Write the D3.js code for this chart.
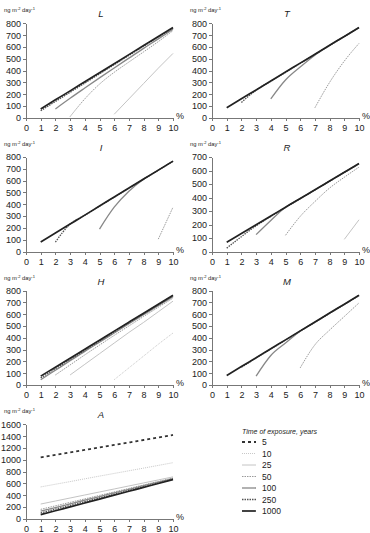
<!DOCTYPE html>
<meta charset="utf-8">
<style>
body { margin: 0; background: #fff; font-family: Arial, "Liberation Sans", sans-serif; }
.axis path, .axis line { fill: none; stroke: #777; stroke-width: 1; shape-rendering: crispEdges; }
.axis text { font-size: 9px; fill: #222; font-family: Arial, "Liberation Sans", sans-serif; }
.title { font-size: 9.5px; font-style: italic; text-anchor: middle; fill: #222; }
.unit { font-size: 5.8px; fill: #222; }
.legend text { font-size: 8.5px; fill: #222; }
</style>
<body>
<div id="d3id"></div>
<script src="https://d3js.org/d3.v7.min.js"></script>
<script>

// x positions (%) shared by every series
var xPct = [1, 2, 3, 4, 5, 6, 7, 8, 9, 10];
var xTicks = [0, 1, 2, 3, 4, 5, 6, 7, 8, 9, 10];
var seriesNames = ["5", "10", "25", "50", "100", "250", "1000"];

// values per panel, null = no value
var panelL = {
  "1000": [75, 152, 228, 305, 382, 458, 535, 612, 688, 765],
  "250":  [60, 138, 216, 294, 372, 450, 528, 606, 684, 758],
  "100":  [null, 75, 165, 252, 338, 422, 505, 588, 668, 750],
  "50":   [null, null, 10, 160, 285, 385, 472, 558, 645, 738],
  "25":   [null, null, null, null, null, 30, 160, 290, 420, 545]
};
var panelT = {
  "1000": [85, 161, 236, 312, 387, 463, 538, 614, 689, 765],
  "250":  [null, 130, 234, 310, 385, 461, 536, 612, 688, 763],
  "100":  [null, null, null, 160, 320, 430, 530, 612, 688, 763],
  "50":   [null, null, null, null, null, null, 85, 300, 480, 630]
};
var panelI = {
  "1000": [80, 156, 232, 308, 385, 461, 537, 613, 689, 765],
  "250":  [null, 80, 232, 307, 383, 460, 536, 612, 688, 764],
  "100":  [null, null, null, null, 190, 375, 510, 612, 688, 764],
  "50":   [null, null, null, null, null, null, null, null, 105, 375]
};
var panelR = {
  "1000": [68, 133, 198, 263, 328, 393, 457, 522, 587, 652],
  "250":  [25, 110, 190, 260, 326, 391, 456, 521, 586, 650],
  "100":  [null, null, 125, 230, 328, 392, 456, 521, 586, 650],
  "50":   [null, null, null, null, 120, 260, 370, 470, 550, 625],
  "25":   [null, null, null, null, null, null, null, null, 90, 235]
};
var panelH = {
  "1000": [75, 151, 227, 303, 379, 456, 532, 608, 684, 760],
  "250":  [60, 138, 216, 294, 372, 450, 528, 604, 680, 755],
  "100":  [45, 125, 205, 285, 362, 440, 518, 596, 672, 748],
  "50":   [null, 85, 170, 255, 338, 420, 500, 580, 658, 735],
  "25":   [null, null, 85, 175, 265, 355, 445, 530, 620, 710],
  "10":   [null, null, null, null, null, 45, 145, 245, 345, 440]
};
var panelM = {
  "1000": [80, 156, 231, 307, 382, 458, 533, 609, 684, 760],
  "250":  [null, 150, 229, 305, 380, 456, 531, 607, 682, 758],
  "100":  [null, null, 75, 250, 355, 455, 531, 607, 682, 758],
  "50":   [null, null, null, null, null, 145, 340, 465, 580, 695]
};
var panelA = {
  "5":    [1040, 1082, 1124, 1166, 1208, 1250, 1292, 1334, 1376, 1420],
  "10":   [540, 585, 630, 677, 723, 768, 813, 858, 904, 950],
  "25":   [250, 301, 352, 403, 454, 505, 556, 607, 658, 710],
  "50":   [160, 219, 278, 337, 396, 455, 514, 573, 632, 690],
  "100":  [130, 191, 253, 315, 377, 438, 500, 562, 620, 680],
  "250":  [100, 163, 226, 290, 353, 416, 480, 543, 606, 670],
  "1000": [70, 136, 202, 268, 334, 400, 466, 532, 598, 665]
};

var panels = [
  {name: "L", data: panelL, yMax: 800, step: 100, col: 0, row: 0},
  {name: "T", data: panelT, yMax: 800, step: 100, col: 1, row: 0},
  {name: "I", data: panelI, yMax: 800, step: 100, col: 0, row: 1},
  {name: "R", data: panelR, yMax: 700, step: 100, col: 1, row: 1},
  {name: "H", data: panelH, yMax: 800, step: 100, col: 0, row: 2},
  {name: "M", data: panelM, yMax: 800, step: 100, col: 1, row: 2},
  {name: "A", data: panelA, yMax: 1600, step: 200, col: 0, row: 3}
];

var styles = {
  "5":    {stroke: "#333", width: 1.8, dash: "3,3"},
  "10":   {stroke: "#c8c8c8", width: 1, dash: "1,1"},
  "25":   {stroke: "#c4c4c4", width: 1, dash: null},
  "50":   {stroke: "#9a9a9a", width: 1, dash: "1.5,1"},
  "100":  {stroke: "#888", width: 1.3, dash: null},
  "250":  {stroke: "#555", width: 1.3, dash: "1.5,1"},
  "1000": {stroke: "#222", width: 1.7, dash: null}
};

var width = 370, height = 533;
var colX = [26, 212], plotW = 147;
var rowTop = [23.3, 157, 290.5, 424.3], plotH = 94.5;

var svg = d3.select("#d3id").append("svg")
  .attr("width", width).attr("height", height);

panels.forEach(function(p) {
  var x0 = colX[p.col], y0 = rowTop[p.row];
  var g = svg.append("g").attr("transform", "translate(" + x0 + "," + y0 + ")");

  var x = d3.scaleLinear().domain([0, 10]).range([0, plotW]);
  var y = d3.scaleLinear().domain([0, p.yMax]).range([plotH, 0]);

  g.append("g").attr("class", "axis")
    .attr("transform", "translate(0," + plotH + ")")
    .call(d3.axisBottom(x).tickValues(xTicks).tickSize(3).tickSizeOuter(0).tickPadding(4));

  g.append("g").attr("class", "axis")
    .call(d3.axisLeft(y).tickValues(d3.range(0, p.yMax + 1, p.step))
      .tickFormat(d3.format("d")).tickSize(3).tickSizeOuter(0).tickPadding(2));

  g.append("text").attr("x", plotW + 3).attr("y", plotH + 1)
    .style("font-size", "9px").style("fill", "#222").text("%");

  g.append("text").attr("class", "title")
    .attr("x", x(5.1)).attr("y", -6).text(p.name);

  var u = g.append("text").attr("class", "unit").attr("x", -22).attr("y", -11);
  u.append("tspan").text("ng m");
  u.append("tspan").attr("dy", -2).style("font-size", "4px").text("-2");
  u.append("tspan").attr("dy", 2).text(" day");
  u.append("tspan").attr("dy", -2).style("font-size", "4px").text("-1");

  var line = d3.line()
    .defined(function(d) { return d[1] != null; })
    .x(function(d) { return x(d[0]); })
    .y(function(d) { return y(d[1]); })
    .curve(d3.curveMonotoneX);

  seriesNames.forEach(function(s) {
    if (!p.data[s]) return;
    var pts = xPct.map(function(v, i) { return [v, p.data[s][i]]; });
    var st = styles[s];
    g.append("path")
      .attr("d", line(pts))
      .attr("fill", "none")
      .attr("stroke", st.stroke)
      .attr("stroke-width", st.width)
      .attr("stroke-dasharray", st.dash);
  });
});

// legend
var lg = svg.append("g").attr("class", "legend").attr("transform", "translate(242,431)");
lg.append("text").attr("x", 0).attr("y", 2.5)
  .style("font-style", "italic").style("font-size", "7px").text("Time of exposure, years");
seriesNames.forEach(function(s, i) {
  var yy = 11 + i * 11.5;
  var st = styles[s];
  lg.append("line").attr("x1", 0).attr("x2", 14).attr("y1", yy).attr("y2", yy)
    .attr("stroke", st.stroke).attr("stroke-width", st.width).attr("stroke-dasharray", st.dash);
  lg.append("text").attr("x", 20).attr("y", yy + 3).text(s);
});

</script>
</body>
